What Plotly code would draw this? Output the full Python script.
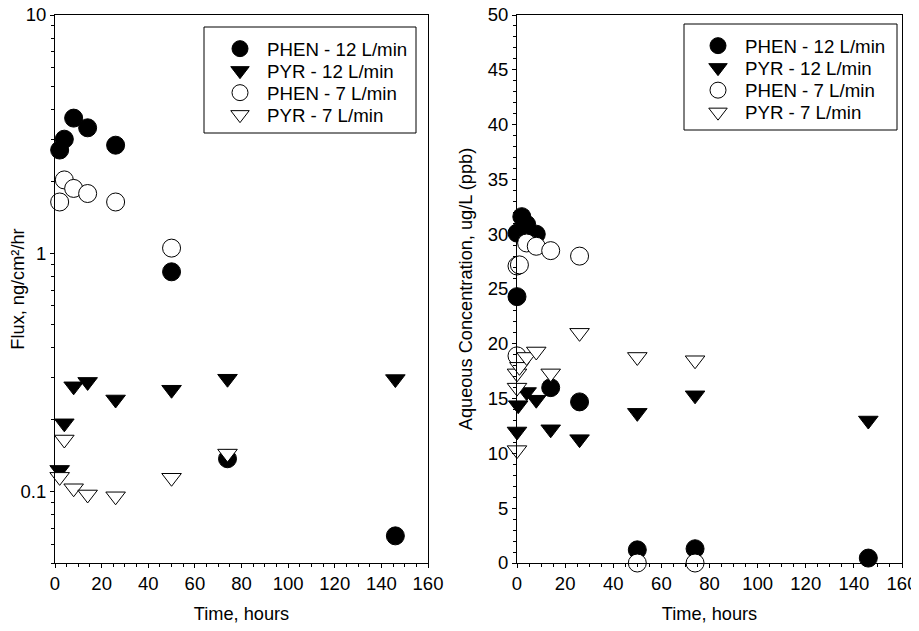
import numpy as np
import plotly.graph_objects as go

# ---------------- data ----------------
# Left panel: Flux (log scale)
flux_phen12_t = [2, 4, 8, 14, 26, 50, 74, 146]
flux_phen12 = [2.71, 3.01, 3.69, 3.36, 2.84, 0.835, 0.137, 0.065]
flux_pyr12_t = [2, 4, 8, 14, 26, 50, 74, 146]
flux_pyr12 = [0.123, 0.193, 0.276, 0.288, 0.243, 0.267, 0.297, 0.296]
flux_phen7_t = [2, 4, 8, 14, 26, 50]
flux_phen7 = [1.64, 2.03, 1.87, 1.78, 1.64, 1.05]
flux_pyr7_t = [2, 4, 8, 14, 26, 50, 74]
flux_pyr7 = [0.115, 0.165, 0.103, 0.097, 0.0953, 0.114, 0.144]

# Right panel: Aqueous concentration
conc_phen12_t = [0, 0, 2, 4, 8, 14, 26, 50, 74, 146]
conc_phen12 = [24.3, 30.1, 31.6, 30.9, 30.0, 16.0, 14.7, 1.2, 1.3, 0.45]
conc_pyr12_t = [0, 0.5, 4, 8, 14, 26, 50, 74, 146]
conc_pyr12 = [12.0, 14.4, 15.6, 14.9, 12.2, 11.3, 13.7, 15.3, 13.0]
conc_phen7_t = [0, 0, 1, 4, 8, 14, 26, 50, 74]
conc_phen7 = [18.9, 27.1, 27.2, 29.2, 28.9, 28.5, 28.0, 0, 0]
conc_pyr7_t = [0, 0, 0, 1, 4, 8, 14, 26, 50, 74]
conc_pyr7 = [10.3, 16.0, 17.3, 17.9, 18.8, 19.3, 17.3, 21.0, 18.8, 18.5]

series_names = ["PHEN - 12 L/min", "PYR - 12 L/min", "PHEN - 7 L/min", "PYR - 7 L/min"]
x_title = "Time, hours"
left_y_title = "Flux, ng/cm²/hr"
right_y_title = "Aqueous Concentration, ug/L (ppb)"

# ---------------- style ----------------
FONT = "Arial, 'Liberation Sans', sans-serif"
FS_TICK = 18.5
FS_TITLE = 18.2
FS_LEG = 18.7
W, H = 919, 631
OFF = 8  # page body margin: figure is drawn 8px right/down of the window corner


def px(x):
    return (x - OFF) / W


def py(y):
    return 1 - (y - OFF) / H


styles = [
    dict(symbol="circle", size=18, color="black", line=dict(color="black", width=1)),
    dict(symbol="triangle-down", size=17, color="black", line=dict(color="black", width=1)),
    dict(symbol="circle", size=18, color="white", line=dict(color="black", width=1)),
    dict(symbol="triangle-down", size=17, color="white", line=dict(color="black", width=1)),
]

# legend geometry (screen pixels): legend left x, row centre y for each panel
LEG_LEFT_X = 213
LEG_RIGHT_X = 691
LEG_LEFT_ROWS = [49, 71, 93, 115]
LEG_RIGHT_ROWS = [46, 68, 90.5, 112.5]

fig = go.Figure()
left = [(flux_phen12_t, flux_phen12), (flux_pyr12_t, flux_pyr12),
        (flux_phen7_t, flux_phen7), (flux_pyr7_t, flux_pyr7)]
right = [(conc_phen12_t, conc_phen12), (conc_pyr12_t, conc_pyr12),
         (conc_phen7_t, conc_phen7), (conc_pyr7_t, conc_pyr7)]

legend_layouts = {}
for i, (t, v) in enumerate(left):
    lg = "legend" if i == 0 else f"legend{i + 1}"
    fig.add_trace(go.Scatter(x=t, y=v, mode="markers", name=series_names[i],
                             marker=styles[i], xaxis="x", yaxis="y",
                             legend=lg, cliponaxis=False))
    legend_layouts[lg] = dict(x=px(LEG_LEFT_X), y=py(LEG_LEFT_ROWS[i]),
                              xanchor="left", yanchor="middle")
for i, (t, v) in enumerate(right):
    lg = f"legend{i + 5}"
    fig.add_trace(go.Scatter(x=t, y=v, mode="markers", name=series_names[i],
                             marker=styles[i], xaxis="x2", yaxis="y2",
                             legend=lg, cliponaxis=False))
    legend_layouts[lg] = dict(x=px(LEG_RIGHT_X), y=py(LEG_RIGHT_ROWS[i]),
                              xanchor="left", yanchor="middle")
for k, d in legend_layouts.items():
    d.update(bgcolor="rgba(0,0,0,0)", borderwidth=0, itemwidth=44,
             font=dict(family=FONT, size=FS_LEG, color="black"),
             tracegroupgap=0)

# plot area geometry (screen pixels)
LX0, LX1 = 55, 428
RX0, RX1 = 517, 902
YT, YB = 15, 563
dl = [px(LX0), px(LX1)]
dr = [px(RX0), px(RX1)]
dy = [py(YB), py(YT)]

log_minor = [m * 10 ** e for e in (-2, -1, 0) for m in range(2, 10)
             if 0.05 <= m * 10 ** e <= 10]

base = dict(showline=True, linecolor="black", linewidth=1, mirror=True,
            showgrid=False, zeroline=False, ticks="outside", ticklen=4,
            tickcolor="black", automargin=False, ticklabeloverflow="allow",
            tickfont=dict(family=FONT, size=FS_TICK, color="black"),
            title_font=dict(family=FONT, size=FS_TITLE, color="black"))

xcommon = dict(range=[0, 160], dtick=20, tick0=0,
               minor=dict(ticks="outside", dtick=5, ticklen=3, tickcolor="black"))

inner = dict(ticks="inside", ticklen=4, tickcolor="black", showticklabels=False,
             showline=False, showgrid=False, zeroline=False, automargin=False)

layout = dict(
    width=W, height=H, margin=dict(l=0, r=0, t=0, b=0, autoexpand=False),
    paper_bgcolor="white", plot_bgcolor="white",
    font=dict(family=FONT, size=FS_TICK, color="black"),
    xaxis=dict(**base, **xcommon, domain=dl, anchor="y",
               title=dict(text=x_title, standoff=14)),
    yaxis=dict(**base, type="log", range=[np.log10(0.05), 1], domain=dy, anchor="x",
               tickvals=[0.1, 1, 10], ticktext=["0.1", "1", "10"],
               minor=dict(ticks="outside", tickvals=log_minor, ticklen=3, tickcolor="black"),
               title=dict(text=left_y_title, standoff=12)),
    xaxis2=dict(**base, **xcommon, domain=dr, anchor="y2",
                title=dict(text=x_title, standoff=14)),
    yaxis2=dict(**base, range=[0, 50], dtick=5, domain=dy, anchor="x2",
                minor=dict(ticks="outside", dtick=1, ticklen=3, tickcolor="black"),
                title=dict(text=right_y_title, standoff=10)),
    # inside halves of the crossing ticks
    xaxis3=dict(**inner, overlaying="x", anchor="y", domain=dl, range=[0, 160],
                dtick=20, tick0=0,
                minor=dict(ticks="inside", dtick=5, ticklen=3, tickcolor="black")),
    yaxis3=dict(**inner, overlaying="y", anchor="x", domain=dy, type="log",
                range=[np.log10(0.05), 1], tickvals=[0.1, 1, 10],
                minor=dict(ticks="inside", tickvals=log_minor, ticklen=3, tickcolor="black")),
    xaxis4=dict(**inner, overlaying="x2", anchor="y2", domain=dr, range=[0, 160],
                dtick=20, tick0=0,
                minor=dict(ticks="inside", dtick=5, ticklen=3, tickcolor="black")),
    yaxis4=dict(**inner, overlaying="y2", anchor="x2", domain=dy, range=[0, 50], dtick=5,
                minor=dict(ticks="inside", dtick=1, ticklen=3, tickcolor="black")),
    showlegend=True,
    shapes=[
        dict(type="rect", xref="paper", yref="paper",
             x0=px(204), x1=px(416), y0=py(133), y1=py(27),
             line=dict(color="black", width=1), fillcolor="rgba(0,0,0,0)"),
        dict(type="rect", xref="paper", yref="paper",
             x0=px(684), x1=px(897), y0=py(130), y1=py(24),
             line=dict(color="black", width=1), fillcolor="rgba(0,0,0,0)"),
    ],
    **legend_layouts,
)
fig.update_layout(**layout)
fig.write_html("out.html")
